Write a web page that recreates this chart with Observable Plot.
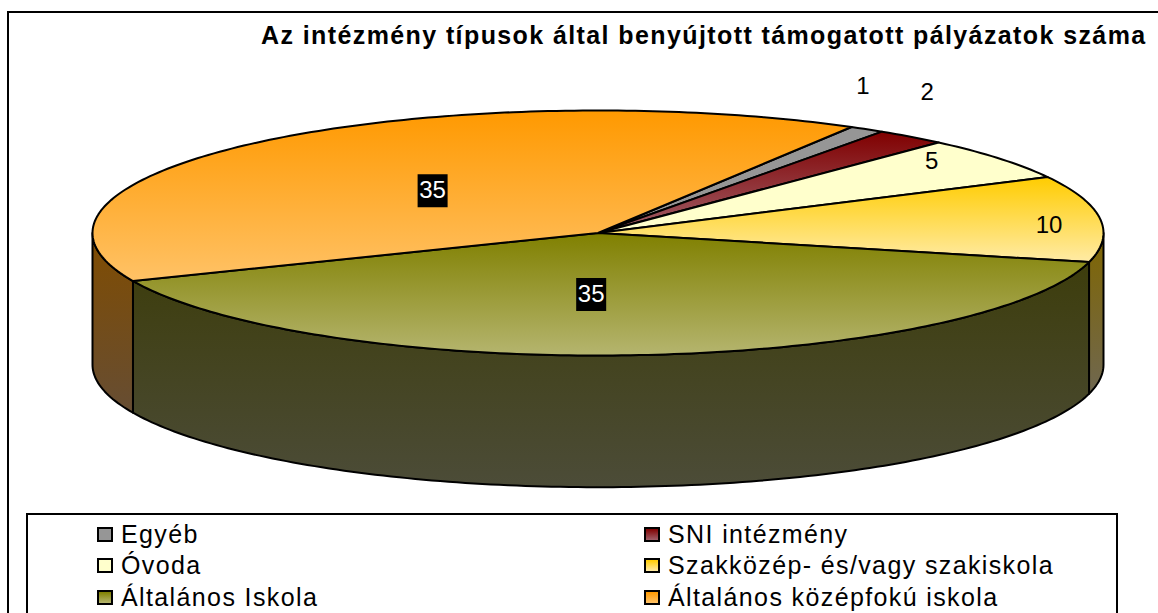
<!DOCTYPE html>
<html lang="hu">
<head>
<meta charset="utf-8">
<script src="https://cdn.jsdelivr.net/npm/d3@7"></script>
<script src="https://cdn.jsdelivr.net/npm/@observablehq/plot@0.6"></script>
<style>
html,body{margin:0;padding:0;background:#fff;}
body{width:1158px;height:613px;overflow:hidden;position:relative;font-family:"Liberation Sans",Arial,sans-serif;color:#000;}
#frame{position:absolute;left:7px;top:11px;width:1200px;height:700px;border:2px solid #000;box-sizing:border-box;}
#title{position:absolute;left:261px;top:21px;font-weight:bold;font-size:25px;line-height:28px;white-space:nowrap;letter-spacing:1.4px;}
#chart{position:absolute;left:0;top:50px;width:1158px;}
#chart svg{background:transparent;display:block;}
#legend{position:absolute;left:26px;top:513px;width:1092px;height:140px;border:2px solid #000;box-sizing:border-box;background:#fff;}
.item{position:absolute;display:flex;align-items:center;height:30px;font-size:25px;letter-spacing:1.38px;white-space:nowrap;}
.swatch{width:16px;height:15px;border:2px solid #000;box-sizing:border-box;margin-right:8px;flex:none;}
</style>
</head>
<body>
<div id="frame"></div>
<div id="title"></div>
<div id="chart"></div>
<div id="legend"></div>
<script>
const titleText = "Az intézmény típusok által benyújtott támogatott pályázatok száma";
const categories = ["Egyéb", "SNI intézmény", "Óvoda", "Szakközép- és/vagy szakiskola", "Általános Iskola", "Általános középfokú iskola"];
const values = [1, 2, 5, 10, 35, 35];
const topFrom  = ["#969696", "#800000", "#ffffcc", "#ffcc00", "#808000", "#ff9900"];
const topTo    = ["#969696", "#a0606a", "#ffffcc", "#ffeba6", "#b5b56f", "#ffc266"];
const sideFrom = ["#4b4b4b", "#400000", "#80805f", "#806600", "#3d3d0c", "#804c00"];
const sideTo   = ["#666666", "#664040", "#808066", "#6f6750", "#4c4c38", "#664d33"];

// layout of the tilted pie
const firstSliceDeg = 30.1;
const depth = 1.075;             // wall height, in units of the minor radius
const labelNudge = [[-4, -43], [16, -45], [-68, 3], [-51, 7], [-48, -60.5], [169.5, 49.5]];
const boxedFrom = 35;            // values at or above this get a black label box

const rad = d => d * Math.PI / 180;
const total = d3.sum(values);
const bounds = d3.cumsum(values).map(c => firstSliceDeg + 360 * c / total);
const slices = categories.map((name, i) => ({
  name, i, value: values[i],
  a0: i ? bounds[i - 1] : firstSliceDeg,
  a1: bounds[i],
}));
const rim = (a, drop = 0) => ({u: Math.sin(rad(a)), v: -Math.cos(rad(a)) + drop});
const arc = (a0, a1) => {
  const n = Math.max(2, Math.ceil(a1 - a0));
  return d3.range(n + 1).map(k => a0 + (a1 - a0) * k / n);
};

function topFace(s) {
  return [{u: 0, v: 0}, ...arc(s.a0, s.a1).map(a => rim(a))];
}
function wallFace(s) {
  // only the part of the rim between 90° and 270° faces the viewer
  const a0 = Math.max(s.a0, 90), a1 = Math.min(s.a1, 270);
  if (a1 <= a0) return null;
  const a = arc(a0, a1);
  return [...a.map(d => rim(d)), ...a.slice().reverse().map(d => rim(d, depth))];
}

const gradients = () => {
  const ns = "http://www.w3.org/2000/svg";
  const defs = document.createElementNS(ns, "defs");
  const add = (id, from, to) => {
    const g = document.createElementNS(ns, "linearGradient");
    g.setAttribute("id", id);
    g.setAttribute("x1", 0); g.setAttribute("y1", 0);
    g.setAttribute("x2", 0); g.setAttribute("y2", 1);
    [[0, from], [1, to]].forEach(([o, c]) => {
      const st = document.createElementNS(ns, "stop");
      st.setAttribute("offset", o); st.setAttribute("stop-color", c);
      g.appendChild(st);
    });
    defs.appendChild(g);
  };
  slices.forEach(s => {
    add(`top${s.i}`, topFrom[s.i], topTo[s.i]);
    add(`wall${s.i}`, sideFrom[s.i], sideTo[s.i]);
  });
  return defs;
};

const face = (pts, fill) => Plot.line(pts, {
  x: "u", y: "v", curve: "linear-closed", fill,
  stroke: "#000", strokeWidth: 2, strokeLinejoin: "round"
});

const labelBox = {draw(ctx) { ctx.rect(-15, -16.5, 30, 33); }};

const plot = Plot.plot({
  width: 1158,
  height: 455,
  margin: 0,
  style: {background: "transparent", overflow: "visible"},
  x: {domain: [-1, 1], range: [92, 1103], axis: null},
  y: {domain: [-1, 1], range: [60, 305], axis: null},
  marks: [
    gradients,
    ...slices.filter(wallFace).map(s => face(wallFace(s), `url(#wall${s.i})`)),
    ...slices.map(s => face(topFace(s), `url(#top${s.i})`)),
    ...slices.flatMap(s => {
      const mid = rim((s.a0 + s.a1) / 2);
      const [dx, dy] = labelNudge[s.i];
      const boxed = s.value >= boxedFrom;
      return [
        ...(boxed ? [Plot.dot([mid], {x: "u", y: "v", dx, dy, symbol: labelBox, fill: "#000", stroke: "none"})] : []),
        Plot.text([mid], {
          x: "u", y: "v", dx, dy, text: () => String(s.value),
          fontSize: 24, fontFamily: "Liberation Sans, Arial, sans-serif",
          fill: boxed ? "#fff" : "#000", textAnchor: "middle"
        })
      ];
    })
  ]
});
document.getElementById("chart").appendChild(plot);
document.getElementById("title").textContent = titleText;

const legend = d3.select("#legend");
const items = legend.selectAll(".item").data(slices).join("div")
  .attr("class", "item")
  .style("left", d => (d.i % 2 ? 616 : 69) + "px")
  .style("top", d => (4 + 31.7 * Math.floor(d.i / 2)) + "px");
items.append("div").attr("class", "swatch")
  .style("background", d => `linear-gradient(${topFrom[d.i]},${topTo[d.i]})`);
items.append("span").text(d => d.name);
</script>
</body>
</html>
